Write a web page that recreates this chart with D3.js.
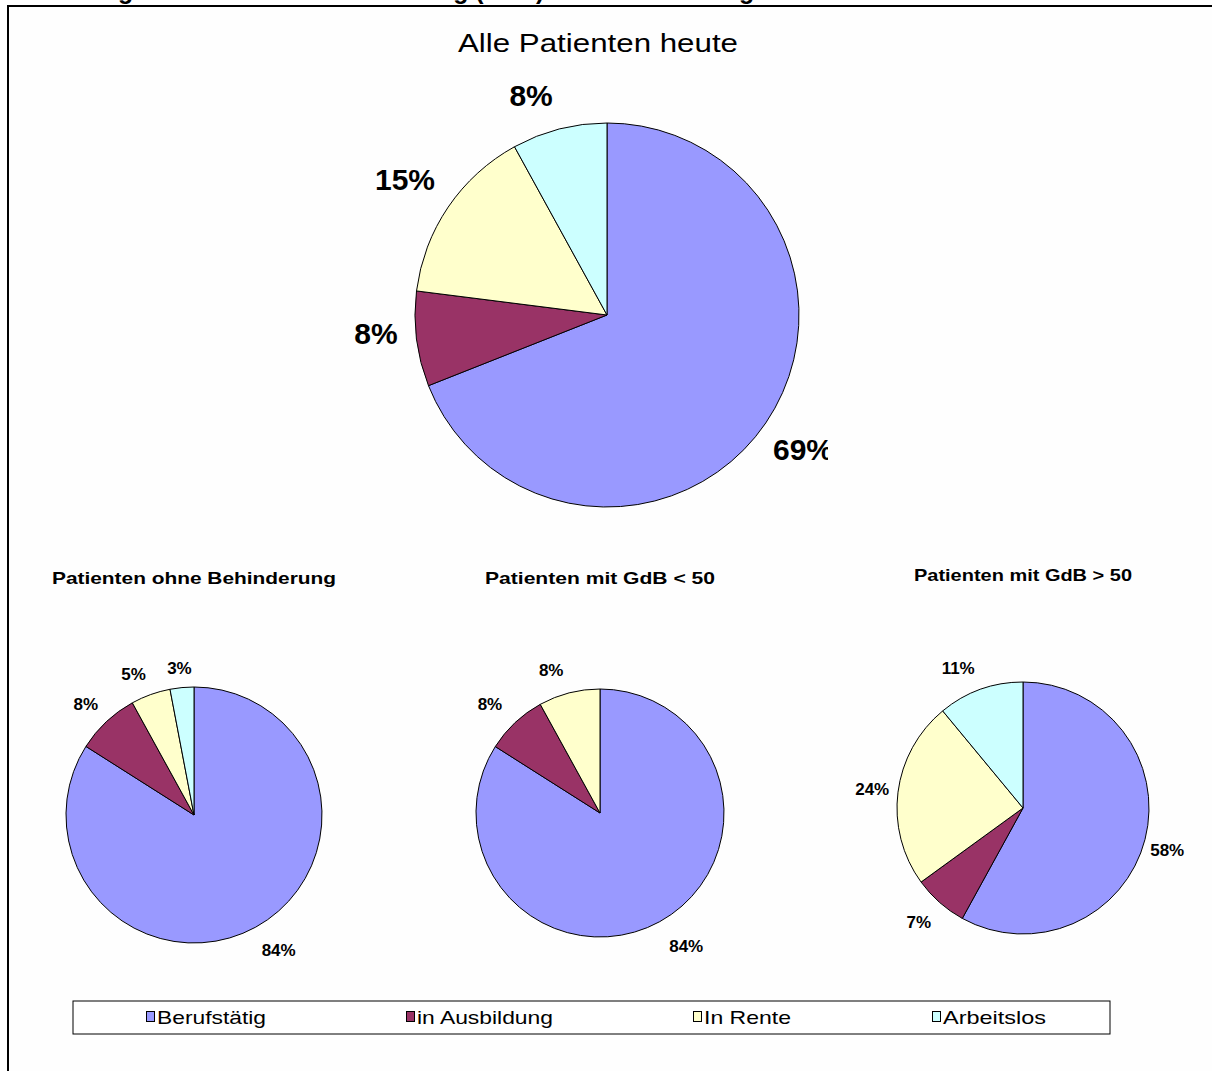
<!DOCTYPE html>
<html>
<head>
<meta charset="utf-8">
<script src="https://cdn.jsdelivr.net/npm/d3@7/dist/d3.min.js"></script>
<style>
  html, body { margin: 0; padding: 0; background: #ffffff; }
  svg { display: block; }
  text { font-family: Arial, "Liberation Sans", sans-serif; fill: #000; }
</style>
</head>
<body>
<svg id="chart" width="1212" height="1071"></svg>
<script>
// Employment status categories and colours
const categories = ["Berufstätig", "in Ausbildung", "In Rente", "Arbeitslos"];
const colors = ["#9999FF", "#993366", "#FFFFCC", "#CCFFFF"];

// Shares in percent, one array per patient group
const allePatienten = [69, 8, 15, 8];
const ohneBehinderung = [84, 8, 5, 3];
const gdbUnter50 = [84, 8, 8, 0];
const gdbUeber50 = [58, 7, 24, 11];

const pieTitles = ["Alle Patienten heute", "Patienten ohne Behinderung", "Patienten mit GdB < 50", "Patienten mit GdB > 50"];
const caption = "Verteilung nach Grad der Behinderung (GdB) und Erwerbstätigkeit heute";

// Layout of the four pies; nudge shifts each percentage label off its radial spot
const layout = [
  { values: allePatienten,   cx: 607,  cy: 315, r: 192, labelR: 237, labelSize: 30,
    nudge: [[0, 1], [4, -11], [-6, -2], [-17, 10]],
    title: { x: 598, y: 52, size: 25, len: 280, weight: "normal" }, clipRight: 828 },
  { values: ohneBehinderung, cx: 194,  cy: 815, r: 128, labelR: 155, labelSize: 17,
    nudge: [[10, 0], [-2, 2], [-8, 5], [0, 8]],
    title: { x: 194, y: 584, size: 17, len: 284, weight: "bold" } },
  { values: gdbUnter50,      cx: 600,  cy: 813, r: 124, labelR: 152, labelSize: 17,
    nudge: [[13, 0], [-6, 2], [-11, 5], [0, 0]],
    title: { x: 600, y: 584, size: 17, len: 230, weight: "bold" } },
  { values: gdbUeber50,      cx: 1023, cy: 808, r: 126, labelR: 153, labelSize: 17,
    nudge: [[-4, 4], [-3, 0], [1, 1], [-13, 4]],
    title: { x: 1023, y: 581, size: 17, len: 218, weight: "bold" } }
];

const svg = d3.select("#chart");
const color = d3.scaleOrdinal().domain(categories).range(colors);

// Caption line, mostly cut off by the top edge
svg.append("text")
  .attr("x", 13).attr("y", -1)
  .attr("font-size", 25).attr("font-weight", "bold")
  .attr("textLength", 857).attr("lengthAdjust", "spacingAndGlyphs")
  .text(caption);

// Chart frame
svg.append("rect")
  .attr("x", 8).attr("y", 6)
  .attr("width", 1212).attr("height", 1075)
  .attr("fill", "#fefefe")
  .attr("stroke", "#000").attr("stroke-width", 2);

const defs = svg.append("defs");
const pie = d3.pie().sort(null).value(d => d);

layout.forEach((cfg, i) => {
  const g = svg.append("g");
  if (cfg.clipRight) {
    defs.append("clipPath").attr("id", "clip" + i)
      .append("rect").attr("x", 0).attr("y", 0).attr("width", cfg.clipRight).attr("height", 1071);
    g.attr("clip-path", `url(#clip${i})`);
  }

  const arcs = pie(cfg.values);
  const arc = d3.arc().innerRadius(0).outerRadius(cfg.r);
  const labelArc = d3.arc().innerRadius(cfg.labelR).outerRadius(cfg.labelR);

  const pg = g.append("g").attr("transform", `translate(${cfg.cx},${cfg.cy})`);

  pg.selectAll("path")
    .data(arcs.filter(d => d.value > 0))
    .join("path")
    .attr("d", arc)
    .attr("fill", d => color(categories[d.index]))
    .attr("stroke", "#000")
    .attr("stroke-width", 1)
    .attr("stroke-linejoin", "round");

  pg.selectAll("text.pct")
    .data(arcs.filter(d => d.value > 0))
    .join("text")
    .attr("class", "pct")
    .attr("transform", d => {
      const [x, y] = labelArc.centroid(d);
      const [dx, dy] = cfg.nudge[d.index];
      return `translate(${x + dx},${y + dy})`;
    })
    .attr("text-anchor", "middle")
    .attr("dominant-baseline", "central")
    .attr("font-size", cfg.labelSize)
    .attr("font-weight", "bold")
    .text(d => d.value + "%");

  svg.append("text")
    .attr("x", cfg.title.x).attr("y", cfg.title.y)
    .attr("text-anchor", "middle")
    .attr("font-size", cfg.title.size)
    .attr("font-weight", cfg.title.weight)
    .attr("textLength", cfg.title.len)
    .attr("lengthAdjust", "spacingAndGlyphs")
    .text(pieTitles[i]);
});

// Legend
const legendItems = [
  { x: 146, len: 109 },
  { x: 406, len: 136 },
  { x: 693, len: 87 },
  { x: 932, len: 103 }
];
const legend = svg.append("g");
legend.append("rect")
  .attr("x", 73).attr("y", 1001)
  .attr("width", 1037).attr("height", 33)
  .attr("fill", "#ffffff")
  .attr("stroke", "#000").attr("stroke-width", 1);

const li = legend.selectAll("g.item")
  .data(categories)
  .join("g").attr("class", "item")
  .attr("transform", (d, k) => `translate(${legendItems[k].x},1011)`);
li.append("rect")
  .attr("x", 0.5).attr("y", 0.5)
  .attr("width", 8).attr("height", 10)
  .attr("fill", d => color(d))
  .attr("stroke", "#000").attr("stroke-width", 1);
li.append("text")
  .attr("x", 11).attr("y", 13)
  .attr("font-size", 19)
  .attr("textLength", (d, k) => legendItems[k].len)
  .attr("lengthAdjust", "spacingAndGlyphs")
  .text(d => d);
</script>
</body>
</html>
